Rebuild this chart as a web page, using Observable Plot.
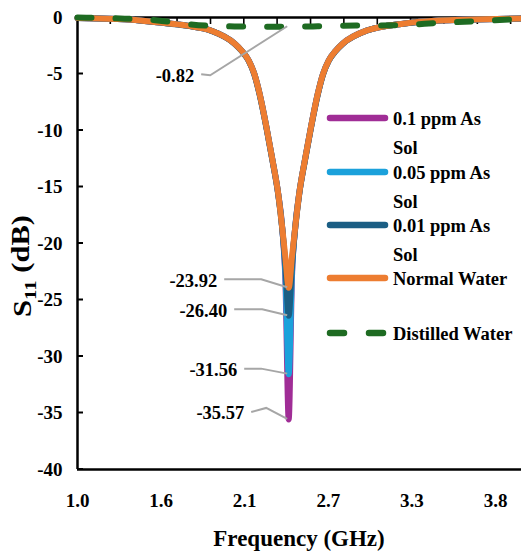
<!DOCTYPE html>
<html><head><meta charset="utf-8">
<script src="https://cdn.jsdelivr.net/npm/d3@7"></script>
<script src="https://cdn.jsdelivr.net/npm/@observablehq/plot@0.6"></script>
<style>
html,body{margin:0;padding:0;background:#fff;}
#chart{width:521px;height:558px;}
</style></head><body><div id="chart"></div>
<script>
// ---- data ----
const freqGHz = [1.00, 1.14, 1.32, 1.54, 1.74, 1.90, 2.061, 2.11, 2.157, 2.195, 2.230, 2.277, 2.318, 2.356, 2.383, 2.405, 2.427, 2.449, 2.471, 2.498, 2.536, 2.577, 2.624, 2.659, 2.697, 2.744, 2.793, 2.954, 3.21, 3.44, 3.66, 4.00];
const s11Sol01  = [-0.04,-0.09,-0.15,-0.42,-0.72,-1.15,-2.30,-2.95,-3.81,-5.00,-6.73,-9.73,-12.65,-15.58,-18.58,-23.4,-35.57,-23.0,-18.58,-15.58,-12.65,-9.73,-6.73,-5.00,-3.81,-2.95,-2.30,-1.15,-0.53,-0.27,-0.18,-0.09];
const s11Sol005 = [-0.04,-0.09,-0.15,-0.42,-0.72,-1.15,-2.30,-2.95,-3.81,-5.00,-6.73,-9.73,-12.65,-15.58,-18.58,-22.8,-31.56,-22.6,-18.58,-15.58,-12.65,-9.73,-6.73,-5.00,-3.81,-2.95,-2.30,-1.15,-0.53,-0.27,-0.18,-0.09];
const s11Sol001 = [-0.04,-0.09,-0.15,-0.43,-0.73,-1.16,-2.32,-2.98,-3.85,-5.05,-6.80,-9.80,-12.72,-15.65,-18.65,-22.0,-26.40,-21.9,-18.65,-15.65,-12.72,-9.80,-6.80,-5.05,-3.85,-2.98,-2.32,-1.16,-0.54,-0.27,-0.18,-0.09];
const s11Normal = [-0.04,-0.09,-0.15,-0.42,-0.72,-1.15,-2.30,-2.95,-3.81,-5.00,-6.73,-9.73,-12.65,-15.58,-18.58,-21.3,-23.92,-21.2,-18.58,-15.58,-12.65,-9.73,-6.73,-5.00,-3.81,-2.95,-2.30,-1.15,-0.53,-0.27,-0.18,-0.09];
const s11Distilled = [0.00,-0.04,-0.10,-0.26,-0.58,-0.74,-0.79,-0.80,-0.80,-0.81,-0.81,-0.81,-0.82,-0.82,-0.82,-0.82,-0.82,-0.82,-0.82,-0.81,-0.80,-0.79,-0.78,-0.78,-0.77,-0.75,-0.73,-0.71,-0.66,-0.47,-0.35,-0.12];

const seriesNames = ["0.1 ppm As Sol", "0.05 ppm As Sol", "0.01 ppm As Sol", "Normal Water", "Distilled Water"];
const legendLines = [["0.1 ppm As","Sol"], ["0.05 ppm As","Sol"], ["0.01 ppm As","Sol"], ["Normal Water"], ["Distilled Water"]];
const seriesValues = [s11Sol01, s11Sol005, s11Sol001, s11Normal, s11Distilled];

const yTicks = [0, -5, -10, -15, -20, -25, -30, -35, -40];
const xTickValues = [1.0, 1.565, 2.13, 2.695, 3.26, 3.825];
const xTickLabels = ["1.0", "1.6", "2.1", "2.7", "3.3", "3.8"];
const topTickValues = [1.225, 1.451, 1.676, 1.902, 2.127, 2.352, 2.578, 2.803, 3.029, 3.254, 3.479, 3.705, 3.930];

const peakGHz = 2.427;
const annoValues = [-0.82, -23.92, -26.40, -31.56, -35.57];
const annoLabels = ["-0.82", "-23.92", "-26.40", "-31.56", "-35.57"];

// ---- styles / layout ----
const FONT = "'Liberation Serif', 'Times New Roman', 'DejaVu Serif', serif";
const colors = ["#A02D96", "#1BA1DB", "#1B5E84", "#ED7D31", "#1E6B22"];
// text end offset (tdx,tdy) and leader elbow offset (edx,edy) relative to the point, px
const annoLayout = [
  {tdx: -94, tdy: 49, edx: -78, edy: 49},
  {tdx: -71, tdy: -7, edx: -27, edy: -8},
  {tdx: -61, tdy: -5, edx: -26, edy: -6},
  {tdx: -51, tdy: -4, edx: -27, edy: -5},
  {tdx: -44, tdy: -6, edx: -22, edy: -11}
];

const rows = seriesValues.map((vals, s) => freqGHz.map((f, i) => ({f, v: vals[i], s: seriesNames[s]})));

const lineOpts = (s) => ({x: "f", y: "v", stroke: colors[s], strokeWidth: 6, curve: "monotone-x", strokeLinecap: "round", strokeLinejoin: "round"});

const svg = Plot.plot({
  width: 521, height: 558,
  marginLeft: 77, marginRight: 0, marginTop: 17, marginBottom: 89,
  x: {domain: [1.0, 4.0], axis: null},
  y: {domain: [-40, 0], axis: null},
  style: {background: "white", color: "black", fontFamily: FONT},
  marks: [
    Plot.ruleY([0, -40], {stroke: "#000", strokeWidth: 2.5}),
    Plot.ruleX([1.0], {stroke: "#000", strokeWidth: 2.5}),
    Plot.axisY({ticks: yTicks, tickSize: 0, tickPadding: 15, tickFormat: d => String(d), fontSize: 19, fontWeight: "bold", label: null}),
    Plot.axisX({anchor: "bottom", ticks: xTickValues, tickSize: 0, tickPadding: 24, tickFormat: d => xTickLabels[xTickValues.indexOf(d)], fontSize: 19, fontWeight: "bold", label: null}),
    Plot.line(rows[0], lineOpts(0)),
    Plot.line(rows[1], lineOpts(1)),
    Plot.line(rows[2], lineOpts(2)),
    Plot.line(rows[3], lineOpts(3)),
    Plot.line(rows[4], {...lineOpts(4), strokeDasharray: "14,24"})
  ]
});

// ---- ticks, annotations, legend and axis titles via the plot's own scales ----
const xs = svg.scale("x"), ys = svg.scale("y");
const root = d3.select(svg);

// inward tick marks (drawn beneath the curves)
const tickG = root.insert("g", ":nth-child(4)").attr("stroke", "#000");
yTicks.forEach(v => {
  const py = ys.apply(v), px = xs.apply(1.0);
  tickG.append("line").attr("x1", px).attr("x2", px + 6).attr("y1", py).attr("y2", py).attr("stroke-width", 2);
});
topTickValues.forEach(f => {
  const px = xs.apply(f), py = ys.apply(0);
  tickG.append("line").attr("x1", px).attr("x2", px).attr("y1", py).attr("y2", py + 7).attr("stroke-width", 1.6);
});

const ann = root.append("g").attr("font-size", 18.5).attr("font-weight", "bold").attr("fill", "#000");
annoValues.forEach((v, i) => {
  const px = xs.apply(peakGHz), py = ys.apply(v);
  const L = annoLayout[i];
  const tx = px + L.tdx, ty = py + L.tdy;
  ann.append("path")
    .attr("d", `M${tx + 7},${ty - 1}L${px + L.edx},${py + L.edy}L${px - 1},${py}`)
    .attr("fill", "none").attr("stroke", "#A6A6A6").attr("stroke-width", 2);
  ann.append("text").attr("x", tx).attr("y", ty).attr("dy", "0.35em")
    .attr("text-anchor", "end").text(annoLabels[i]);
});

// legend
const lg = root.append("g").attr("font-size", 18.5).attr("font-weight", "bold").attr("fill", "#000").attr("text-anchor", "start");
const legendY = [118, 172, 225, 278, 333];
legendLines.forEach((lines, i) => {
  const yy = legendY[i];
  lg.append("line").attr("x1", 330).attr("x2", 385).attr("y1", yy).attr("y2", yy)
    .attr("stroke", colors[i]).attr("stroke-width", 6.5).attr("stroke-linecap", "round")
    .attr("stroke-dasharray", i === 4 ? "14,25" : null);
  lines.forEach((t, k) => {
    lg.append("text").attr("x", 393).attr("y", yy + 7 + 29 * k).attr("text-anchor", "start").text(t);
  });
});

// axis titles
root.append("text").attr("x", (77 + 521) / 2).attr("y", 546).attr("text-anchor", "middle")
  .attr("font-size", 23).attr("font-weight", "bold").attr("fill", "#000").text("Frequency (GHz)");
const yt = root.append("text").attr("transform", "translate(31,266) rotate(-90) scale(1.22,1)")
  .attr("text-anchor", "middle").attr("font-size", 25).attr("font-weight", "bold").attr("fill", "#000");
yt.append("tspan").text("S");
yt.append("tspan").attr("font-size", 17).attr("dy", "0.3em").text("11");
yt.append("tspan").attr("dy", "-0.3em").text(" (dB)");

// force the serif face on every text element
root.attr("font-family", FONT).style("font-family", FONT);
root.selectAll("g").style("font-family", FONT);
root.selectAll("text, tspan").style("font-family", FONT);

document.getElementById("chart").appendChild(svg);
</script>
</body></html>
